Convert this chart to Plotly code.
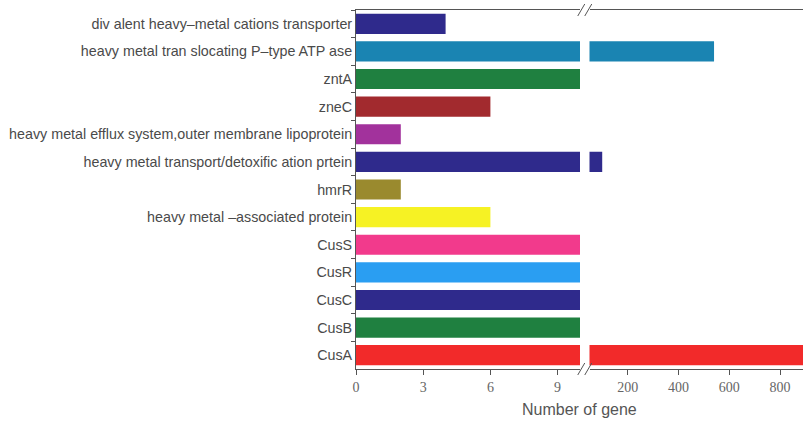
import plotly.graph_objects as go

categories = [
    "div alent heavy\u2013metal cations transporter",
    "heavy metal tran slocating P\u2013type ATP ase",
    "zntA",
    "zneC",
    "heavy metal efflux system,outer membrane lipoprotein",
    "heavy metal transport/detoxific ation prtein",
    "hmrR",
    "heavy metal \u2013associated protein",
    "CusS",
    "CusR",
    "CusC",
    "CusB",
    "CusA",
]
values = [4, 540, 10, 6, 2, 100, 2, 6, 10, 10, 10, 10, 900]
colors = ["#2f2a8c", "#1a84b2", "#1f8040", "#a22a2e", "#a2329c", "#2f2a8c",
          "#9a8a2e", "#f6f224", "#f23a8c", "#2a9ef2", "#2f2a8c", "#1f8040", "#f22a2a"]

left_ticks = [0, 3, 6, 9]
right_ticks = [200, 400, 600, 800]
left_range = [0, 10]
right_range = [50, 890]

W, H = 803, 421
ml, mr, mt, mb = 356, 0, 10, 52
pw = W - ml - mr
left_end = (580 - ml) / pw
right_start = (589.5 - ml) / pw

fig = go.Figure()
fig.add_trace(go.Bar(y=categories, x=values, orientation="h", marker=dict(color=colors, line=dict(width=0)),
                     xaxis="x", yaxis="y", showlegend=False))
fig.add_trace(go.Bar(y=categories, x=values, orientation="h", marker=dict(color=colors, line=dict(width=0)),
                     xaxis="x2", yaxis="y", showlegend=False))

axcol = "#555555"
tickfont = dict(family="Liberation Serif", size=14, color="#666666")
fig.update_layout(
    width=W, height=H,
    margin=dict(l=ml, r=mr, t=mt, b=mb, autoexpand=False),
    plot_bgcolor="white", paper_bgcolor="white",
    bargap=0.27,
    xaxis=dict(domain=[0, left_end], range=left_range, tickvals=left_ticks, showgrid=False, zeroline=False,
               showline=True, linecolor=axcol, linewidth=1, mirror=True, ticks="outside", ticklen=5,
               tickcolor=axcol, tickfont=tickfont, anchor="y", automargin=False),
    xaxis2=dict(domain=[right_start, 1], range=right_range, tickvals=right_ticks, showgrid=False, zeroline=False,
                showline=True, linecolor=axcol, linewidth=1, mirror=True, ticks="outside", ticklen=5,
                tickcolor=axcol, tickfont=tickfont, anchor="y", automargin=False),
    yaxis=dict(categoryorder="array", categoryarray=categories, autorange="reversed",
               showgrid=False, zeroline=False, showline=True, linecolor=axcol, linewidth=1,
               ticks="outside", ticklen=4, tickcolor=axcol, tickson="boundaries", automargin=False,
               tickfont=dict(family="Liberation Sans", size=14.3, color="#4a4a4a")),
    annotations=[dict(text="Number of gene", x=0.5, xref="paper", y=0, yref="paper", yanchor="top",
                      yshift=-30, showarrow=False,
                      font=dict(family="Liberation Sans", size=16, color="#555555"))],
)

# break marks (decoration) at the axis break, top and bottom
bx = (left_end + right_start) / 2
dx = 3.5 / pw
dy = 6 / (H - mt - mb)
shapes = []
for yb in (0, 1):
    for off in (-3.5 / pw, 3.5 / pw):
        shapes.append(dict(type="line", xref="paper", yref="paper",
                           x0=bx + off - dx, y0=yb - dy, x1=bx + off + dx, y1=yb + dy,
                           line=dict(color=axcol, width=1)))
fig.update_layout(shapes=shapes)

fig.write_html("out.html", config={"displayModeBar": False},
               post_script="document.body.style.margin='0';document.body.style.overflow='hidden';")
